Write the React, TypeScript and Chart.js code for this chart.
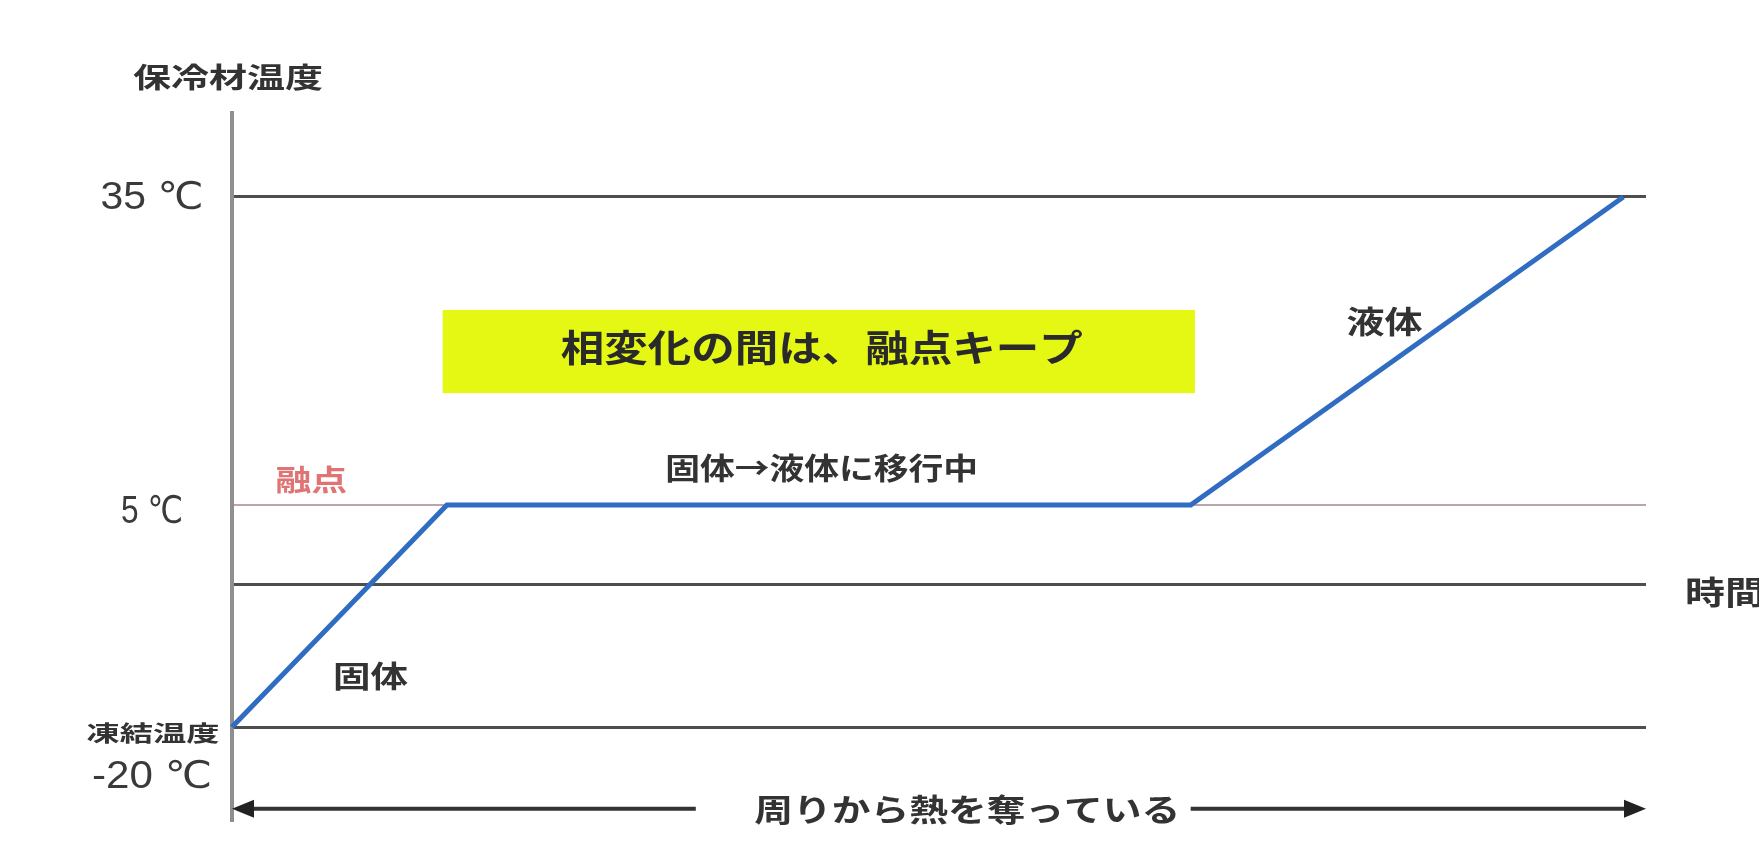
import React, { useEffect, useRef } from "react";
import { Chart, registerables, LinearScale } from "chart.js";

// ---- data ----
const timePoints = [0, 15.2, 67.8, 98.4];
const tempPoints = [-20, 5, 5, 35];
const gridTemps = [-20, 0, 5, 35];
const tickTemps = [35, 5, -20];
const tickLabels = ["35 ℃", "5 ℃", "-20 ℃"];
const freezeLabel = "凍結温度";
const meltLabel = "融点";
const yTitle = "保冷材温度";
const xTitle = "時間";
const boxText = "相変化の間は、融点キープ";
const phaseLabels = ["固体", "固体→液体に移行中", "液体"];
const arrowText = "周りから熱を奪っている";

// ---- piecewise (schematic) temperature scale ----
const Y_ANCHOR_VALUES = [-30, -20, 0, 5, 35, 45];
const Y_ANCHOR_FRACS = [0, 0.1315, 0.3324, 0.4455, 0.8812, 1];

function interp(v: number, xs: number[], ys: number[]) {
  if (v <= xs[0]) {
    const s = (ys[1] - ys[0]) / (xs[1] - xs[0]);
    return ys[0] + (v - xs[0]) * s;
  }
  for (let i = 1; i < xs.length; i++) {
    if (v <= xs[i]) {
      const t = (v - xs[i - 1]) / (xs[i] - xs[i - 1]);
      return ys[i - 1] + t * (ys[i] - ys[i - 1]);
    }
  }
  const n = xs.length - 1;
  const s = (ys[n] - ys[n - 1]) / (xs[n] - xs[n - 1]);
  return ys[n] + (v - xs[n]) * s;
}

class PiecewiseScale extends LinearScale {
  static id = "piecewise";
  static defaults = LinearScale.defaults;
  getPixelForValue(value: any) {
    if (value === null || value === undefined || isNaN(value)) return NaN;
    return (this as any).getPixelForDecimal(interp(+value, Y_ANCHOR_VALUES, Y_ANCHOR_FRACS));
  }
  getValueForPixel(pixel: number) {
    const d = (this as any).getDecimalForPixel(pixel);
    return interp(d, Y_ANCHOR_FRACS, Y_ANCHOR_VALUES);
  }
}

Chart.register(...registerables, PiecewiseScale as any);

const JP = '"Noto Sans CJK JP", "Noto Sans", sans-serif';
const NUM = '"Liberation Sans", "DejaVu Sans", "Noto Sans CJK JP", sans-serif';

function drawFit(
  ctx: CanvasRenderingContext2D,
  text: string,
  cx: number,
  cy: number,
  width: number,
  size: number,
  weight: string,
  color: string,
  family: string
) {
  ctx.save();
  ctx.font = `${weight} ${size}px ${family}`;
  const w = ctx.measureText(text).width || 1;
  ctx.translate(cx, cy);
  ctx.scale(width / w, 1);
  ctx.fillStyle = color;
  ctx.textAlign = "center";
  ctx.textBaseline = "middle";
  ctx.fillText(text, 0, 0);
  ctx.restore();
}

const annot = {
  box: { x0: 14.9, x1: 68.1, y0: 15.9, y1: 24.0, color: "#e4f814" },
  boxText: { x: 41.7, y: 20.3, w: 522, size: 37 },
  solid: { x: 9.8, y: -12.8, w: 75, size: 30 },
  transition: { x: 41.7, y: 8.6, w: 313, size: 30 },
  liquid: { x: 81.5, y: 22.9, w: 76, size: 31 },
  melt: { x: 5.6, y: 7.4, w: 72, size: 29 },
  arrow: { y: -28.8, gapL: 32.8, gapR: 67.8, textX: 52.0, w: 426, size: 31 },
};

const annotationPlugin = {
  id: "schematicAnnotations",
  beforeDatasetsDraw(chart: any) {
    const ctx = chart.ctx as CanvasRenderingContext2D;
    const xs = chart.scales.x;
    const ys = chart.scales.y;
    const b = annot.box;
    const l = xs.getPixelForValue(b.x0);
    const r = xs.getPixelForValue(b.x1);
    const t = ys.getPixelForValue(b.y1);
    const bt = ys.getPixelForValue(b.y0);
    ctx.save();
    ctx.fillStyle = b.color;
    ctx.fillRect(l, t, r - l, bt - t);
    ctx.restore();
  },
  afterDraw(chart: any) {
    const ctx = chart.ctx as CanvasRenderingContext2D;
    const xs = chart.scales.x;
    const ys = chart.scales.y;
    const area = chart.chartArea;
    const axisX = area.left;

    // y-axis title
    drawFit(ctx, yTitle, axisX - 4, area.top - 36, 190, 28, "bold", "#333", JP);
    // tick labels
    tickTemps.forEach((v, i) => {
      const py = ys.getPixelForValue(v);
      const widths = [103, 62, 120];
      const off = v === -20 ? 50 : v === 5 ? 7 : 2;
      drawFit(ctx, tickLabels[i], axisX - 80, py + off, widths[i], 38, "normal", "#3a3a3a", NUM);
    });
    drawFit(ctx, freezeLabel, axisX - 79, ys.getPixelForValue(-20) + 6, 133, 22, "bold", "#333", JP);
    // x-axis title
    drawFit(ctx, xTitle, area.right + 79, ys.getPixelForValue(0) + 7, 80, 32, "bold", "#333", JP);

    // annotations
    const bt = annot.boxText;
    drawFit(ctx, boxText, xs.getPixelForValue(bt.x), ys.getPixelForValue(bt.y), bt.w, bt.size, "bold", "#2a2a2a", JP);
    const s = annot.solid;
    drawFit(ctx, phaseLabels[0], xs.getPixelForValue(s.x), ys.getPixelForValue(s.y), s.w, s.size, "bold", "#333", JP);
    const tr = annot.transition;
    drawFit(ctx, phaseLabels[1], xs.getPixelForValue(tr.x), ys.getPixelForValue(tr.y), tr.w, tr.size, "bold", "#333", JP);
    const lq = annot.liquid;
    drawFit(ctx, phaseLabels[2], xs.getPixelForValue(lq.x), ys.getPixelForValue(lq.y), lq.w, lq.size, "bold", "#333", JP);
    const m = annot.melt;
    drawFit(ctx, meltLabel, xs.getPixelForValue(m.x), ys.getPixelForValue(m.y), m.w, m.size, "bold", "#e07373", JP);

    // double arrow
    const a = annot.arrow;
    const ay = ys.getPixelForValue(a.y);
    const x0 = xs.getPixelForValue(xs.min);
    const x1 = xs.getPixelForValue(xs.max);
    const gl = xs.getPixelForValue(a.gapL);
    const gr = xs.getPixelForValue(a.gapR);
    ctx.save();
    ctx.strokeStyle = "#333";
    ctx.fillStyle = "#222";
    ctx.lineWidth = 4;
    ctx.beginPath();
    ctx.moveTo(x0 + 16, ay);
    ctx.lineTo(gl, ay);
    ctx.moveTo(gr, ay);
    ctx.lineTo(x1 - 16, ay);
    ctx.stroke();
    ctx.beginPath();
    ctx.moveTo(x0, ay);
    ctx.lineTo(x0 + 22, ay - 9);
    ctx.lineTo(x0 + 22, ay + 9);
    ctx.closePath();
    ctx.fill();
    ctx.beginPath();
    ctx.moveTo(x1, ay);
    ctx.lineTo(x1 - 22, ay - 9);
    ctx.lineTo(x1 - 22, ay + 9);
    ctx.closePath();
    ctx.fill();
    ctx.restore();
    drawFit(ctx, arrowText, xs.getPixelForValue(a.textX), ay, a.w, a.size, "bold", "#333", JP);
  },
};

export default function App() {
  const ref = useRef<HTMLCanvasElement | null>(null);
  useEffect(() => {
    document.body.style.margin = "0";
    if (!ref.current) return;
    const chart = new Chart(ref.current, {
      type: "line",
      data: {
        datasets: [
          {
            data: timePoints.map((t, i) => ({ x: t, y: tempPoints[i] })),
            borderColor: "#2f6cc2",
            borderWidth: 5,
            pointRadius: 0,
            tension: 0,
            clip: false as any,
          },
        ],
      },
      options: {
        animation: false,
        responsive: false,
        devicePixelRatio: 1,
        layout: { padding: { left: 232, right: 113, top: 113, bottom: 26 } },
        plugins: { legend: { display: false }, tooltip: { enabled: false } },
        scales: {
          x: { type: "linear", min: 0, max: 100, display: false },
          y: {
            type: "piecewise" as any,
            min: -30,
            max: 45,
            afterBuildTicks: (scale: any) => {
              scale.ticks = gridTemps.map((v) => ({ value: v }));
            },
            afterFit: (scale: any) => {
              scale.width = 0;
            },
            ticks: { display: false },
            grid: {
              drawTicks: false,
              tickLength: 0,
              color: (c: any) => (c.tick && c.tick.value === 5 ? "#bda4ac" : "#4e4e4e"),
              lineWidth: (c: any) => (c.tick && c.tick.value === 5 ? 2 : 3),
            },
            border: { display: true, color: "#8f8f8f", width: 4 },
          } as any,
        },
      },
      plugins: [annotationPlugin],
    });
    return () => chart.destroy();
  }, []);
  return (
    <div style={{ width: 1759, height: 846, background: "#fff" }}>
      <canvas ref={ref} width={1759} height={846} style={{ display: "block" }} />
    </div>
  );
}
